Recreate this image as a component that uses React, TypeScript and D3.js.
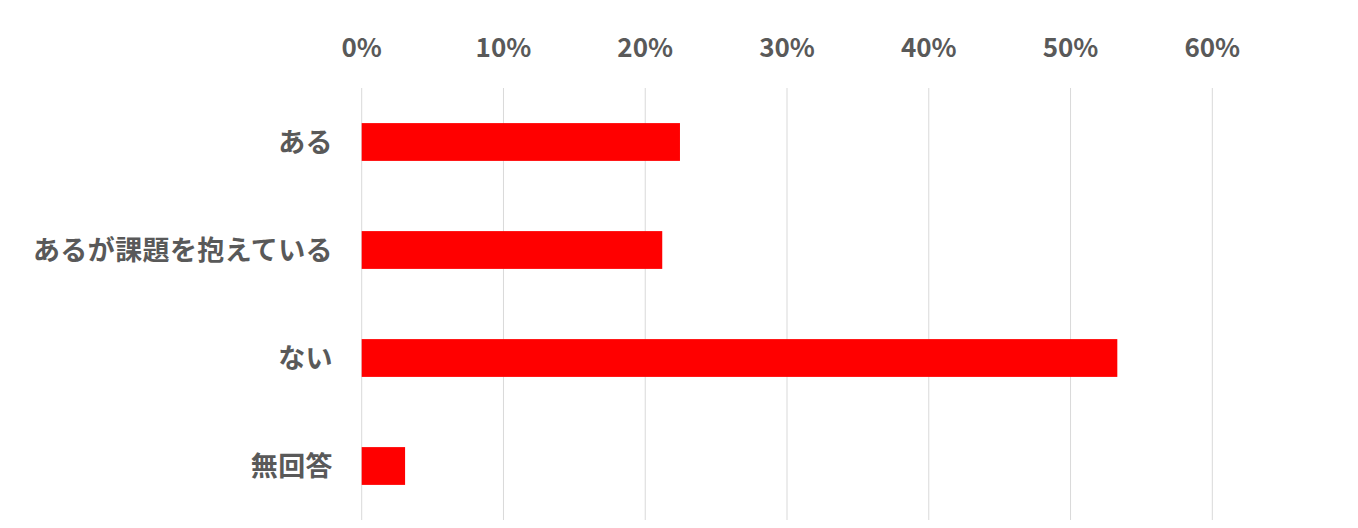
import React from "react";
import * as d3 from "d3";

const categories = ["ある", "あるが課題を抱えている", "ない", "無回答"];
const values = [0.2245, 0.212, 0.533, 0.0306];
const ticks = [0, 0.1, 0.2, 0.3, 0.4, 0.5, 0.6];

const W = 1358;
const H = 528;
const FONT = "'Noto Sans CJK JP', 'Noto Sans', sans-serif";
const TEXT = "#595959";

export default function App() {
  const x = d3.scaleLinear().domain([0, 0.6]).range([361.7, 1212.3]);
  const y = d3
    .scaleBand<string>()
    .domain(categories)
    .range([88, 520])
    .paddingInner(0.65)
    .paddingOuter(0.325);
  const fmt = d3.format(".0%");
  return (
    <svg
      width={W}
      height={H}
      style={{ position: "absolute", left: 0, top: 0, background: "#fff" }}
    >
      <rect width={W} height={H} fill="#fff" />
      {ticks.map((t) => (
        <g key={t}>
          <line
            x1={x(t)}
            x2={x(t)}
            y1={88}
            y2={520}
            stroke="#d9d9d9"
            strokeWidth={1}
          />
          <text
            x={x(t)}
            y={57}
            textAnchor="middle"
            fontFamily={FONT}
            fontWeight="bold"
            fontSize={26}
            fill={TEXT}
          >
            {fmt(t)}
          </text>
        </g>
      ))}
      {categories.map((c, i) => (
        <g key={c}>
          <rect
            x={x(0)}
            y={y(c)!}
            width={x(values[i]) - x(0)}
            height={y.bandwidth()}
            fill="#ff0000"
          />
          <text
            x={333}
            y={y(c)! + y.bandwidth() / 2 - 2}
            dominantBaseline="central"
            textAnchor="end"
            fontFamily={FONT}
            fontWeight="bold"
            fontSize={27}
            letterSpacing={0.4}
            fill={TEXT}
          >
            {c}
          </text>
        </g>
      ))}
    </svg>
  );
}
